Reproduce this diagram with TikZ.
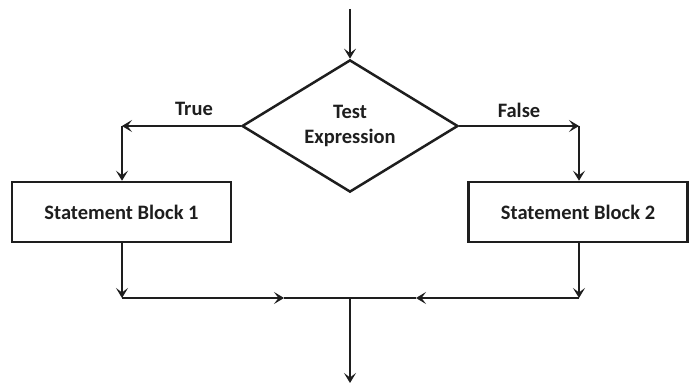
\documentclass[tikz,border=0pt]{standalone}
\usepackage{xcolor}
\usepackage{tikz}
\usepackage{fontspec}
\setmainfont{Carlito}
\usetikzlibrary{shapes.geometric,arrows.meta}
\definecolor{FlowInk}{RGB}{30,30,30}

\begin{document}
\begin{tikzpicture}[x=1pt,y=-1pt,
    flowline/.style={draw=FlowInk,line width=2.5pt},
    flowarrow/.style={flowline,-{Stealth[length=10pt,width=12pt,inset=4.5pt]}},
    blockbox/.style={draw=FlowInk,line width=2.5pt,minimum width=219pt,minimum height=60pt,
          font=\fontsize{20.5}{24}\selectfont\bfseries,text=FlowInk},
    flowlabel/.style={font=\fontsize{20.5}{24}\selectfont\bfseries,text=FlowInk}]
    \useasboundingbox (0,0) rectangle (689,385);
    % decision
    \node[diamond,draw=FlowInk,line width=2.5pt,minimum width=216pt,minimum height=122pt,
          inner sep=0pt,align=center,font=\fontsize{20.5}{24.5}\selectfont\bfseries,text=FlowInk]
          (test) at (350,126) {Test\\Expression};
    \node[blockbox] (block1) at (121.5,212) {Statement Block 1};
    \node[blockbox] (block2) at (578,212) {Statement Block 2};
    \node[flowlabel] (truelbl) at (194,109) {True};
    \node[flowlabel] (falselbl) at (519,110) {False};
    % helper points
    \coordinate (entry) at (350,9);
    \coordinate (exit) at (350,383);
    \coordinate (tl) at (122,126);
    \coordinate (tr) at (579,126);
    \coordinate (jl) at (122,298);
    \coordinate (jr) at (579,298);
    \coordinate (ml) at (284,298);
    \coordinate (mr) at (416,298);
    \coordinate (merge) at (350,298);
    % connectors
    \draw[flowarrow] (entry) -- (test.north);
    \draw[flowarrow] (test.west) -- (tl);
    \draw[flowarrow] (tl) -- (tl |- block1.north);
    \draw[flowarrow] (test.east) -- (tr);
    \draw[flowarrow] (tr) -- (tr |- block2.north);
    \draw[flowarrow] (jl |- block1.south) -- (jl);
    \draw[flowarrow] (jr |- block2.south) -- (jr);
    \draw[flowarrow] (jl) -- (ml);
    \draw[flowarrow] (jr) -- (mr);
    \draw[flowline] (ml) -- (mr);
    \draw[flowarrow] (merge) -- (exit);
\end{tikzpicture}
\end{document}
